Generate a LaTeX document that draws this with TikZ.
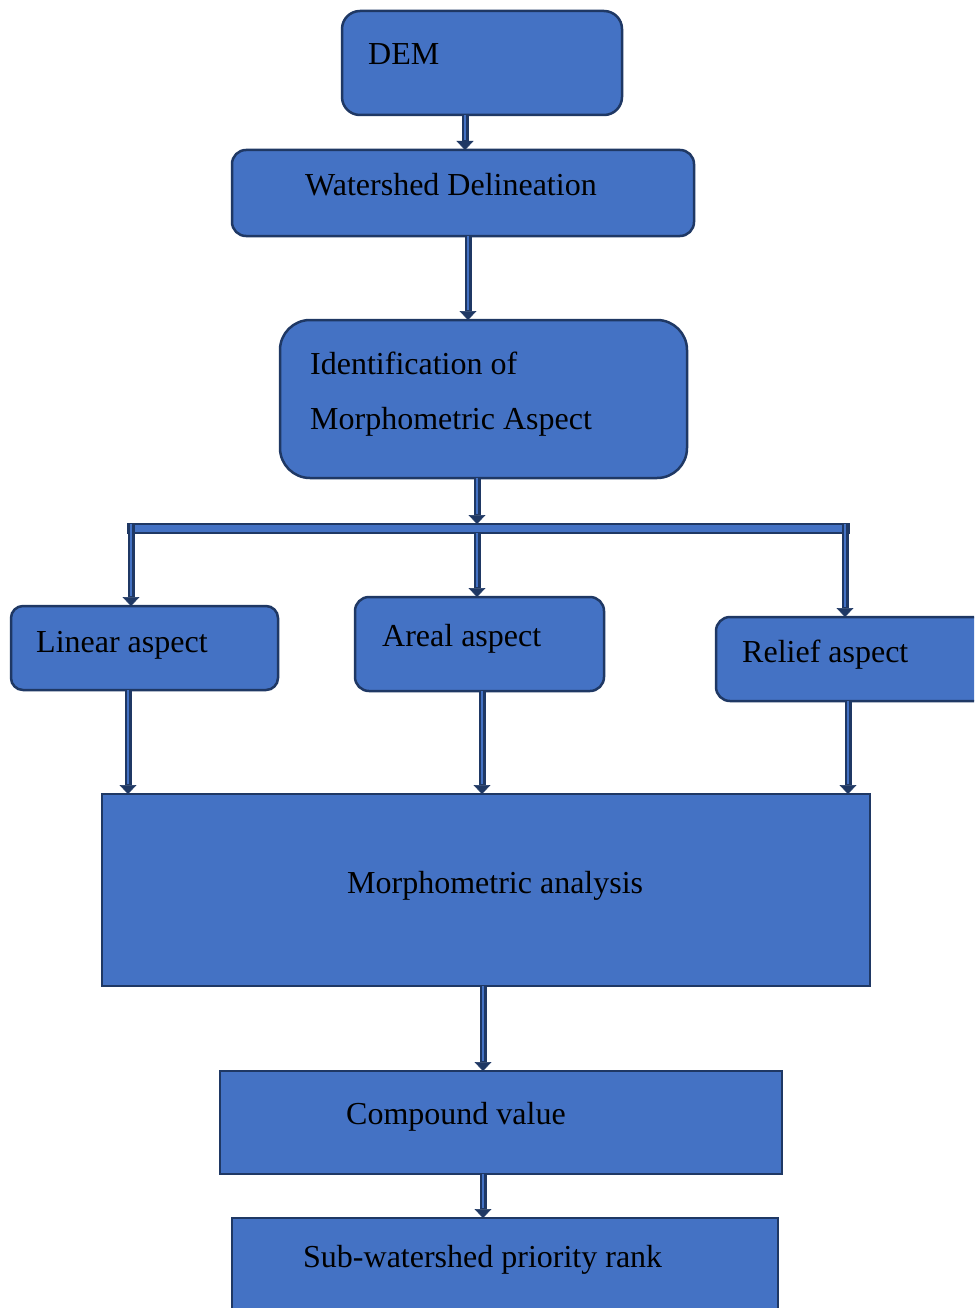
\documentclass[tikz,border=0pt]{standalone}
\usepackage{fontspec}
\setmainfont{Liberation Serif}
\usetikzlibrary{arrows.meta}
\definecolor{boxblue}{HTML}{4472C4}
\definecolor{edgecol}{HTML}{1F3864}
\tikzset{
  box/.style={draw=edgecol, fill=boxblue, line width=2.5pt, anchor=north west, inner sep=0pt, outer sep=0pt},
  lbl/.style={anchor=base west, inner sep=0pt, text=black, font=\fontsize{32}{38}\selectfont},
  arr/.style={draw=edgecol, line width=7pt, -{Triangle[length=9pt, width=17pt, line width=0.5pt]},
    postaction={draw=boxblue, line width=2.5pt, -, shorten >=10pt}}
}
\begin{document}
\begin{tikzpicture}[x=1pt, y=-1pt]
\useasboundingbox (0,0) rectangle (974,1308);
\clip (0,0) rectangle (974,1308);
\fill[white] (0,0) rectangle (974,1308);

% boxes
\node[box, rounded corners=18pt, minimum width=280pt, minimum height=104pt] (dem) at (342,11) {};
\node[box, rounded corners=14pt, minimum width=462pt, minimum height=86pt] (wd) at (232,150) {};
\node[box, rounded corners=30pt, minimum width=407pt, minimum height=158pt] (ident) at (280,320) {};
\node[box, line width=2pt, minimum width=721pt, minimum height=9pt] (bar) at (128,524) {};
\node[box, rounded corners=12pt, minimum width=267pt, minimum height=84pt] (linear) at (11,606) {};
\node[box, rounded corners=14pt, minimum width=249pt, minimum height=94pt] (areal) at (355,597) {};
\node[box, rounded corners=14pt, minimum width=290pt, minimum height=84pt] (relief) at (716,617) {};
\node[box, minimum width=768pt, minimum height=192pt] (ma) at (102,794) {};
\node[box, minimum width=562pt, minimum height=103pt] (cv) at (220,1071) {};
\node[box, minimum width=546pt, minimum height=120pt] (sw) at (232,1218) {};

% labels
\node[lbl] (demt) at (368,65) {DEM};
\node[lbl] (wdt) at (305,196) {Watershed Delineation};
\node[lbl] (identt1) at (310,374) {Identification of};
\node[lbl] (identt2) at (310,429) {Morphometric Aspect};
\node[lbl] (lineart) at (36,652) {Linear aspect};
\node[lbl] (arealt) at (382,646) {Areal aspect};
\node[lbl] (relieft) at (742,662) {Relief aspect};
\node[lbl] (mat) at (347,893) {Morphometric analysis};
\node[lbl] (cvt) at (346,1124) {Compound value};
\node[lbl] (swt) at (303,1267) {Sub-watershed priority rank};

% arrow columns
\coordinate (c1) at (465,0);
\coordinate (c2) at (468,0);
\coordinate (c3) at (477,0);
\coordinate (c4) at (131,0);
\coordinate (c6) at (845,0);
\coordinate (c7) at (128,0);
\coordinate (c8) at (482,0);
\coordinate (c9) at (848,0);
\coordinate (c10) at (483,0);

% connectors
\draw[arr] (dem.south -| c1) -- (wd.north -| c1);
\draw[arr] (wd.south -| c2) -- (ident.north -| c2);
\draw[arr] (ident.south -| c3) -- (bar.north -| c3);
\draw[arr] (bar.north -| c4) -- (linear.north -| c4);
\draw[arr] (bar.south -| c3) -- (areal.north -| c3);
\draw[arr] (bar.north -| c6) -- (relief.north -| c6);
\draw[arr] (linear.south -| c7) -- (ma.north -| c7);
\draw[arr] (areal.south -| c8) -- (ma.north -| c8);
\draw[arr] (relief.south -| c9) -- (ma.north -| c9);
\draw[arr] (ma.south -| c10) -- (cv.north -| c10);
\draw[arr] (cv.south -| c10) -- (sw.north -| c10);
\end{tikzpicture}
\end{document}
